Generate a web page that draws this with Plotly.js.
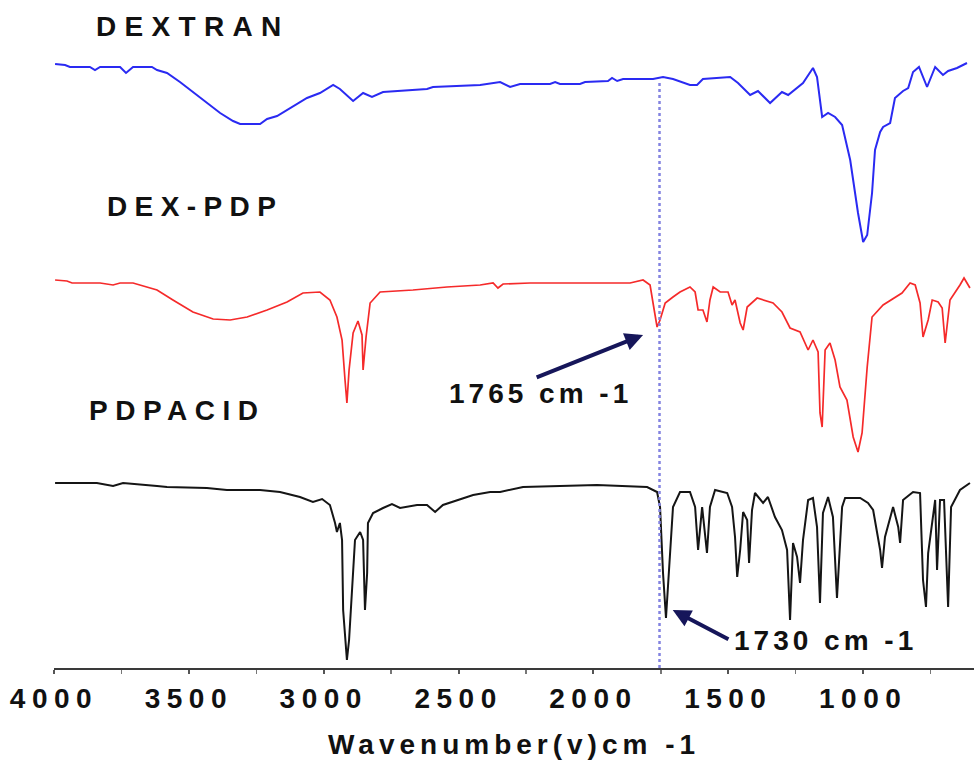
<!DOCTYPE html>
<html>
<head>
<meta charset="utf-8">
<script src="https://cdn.plot.ly/plotly-3.0.1.min.js"></script>
<style>
  html, body { margin: 0; padding: 0; background: #fff; }
  #chart { width: 974px; height: 760px; }
  .xtick text { letter-spacing: 6.5px; }
</style>
</head>
<body>
<div id="chart"></div>
<script>
// Wavenumber (cm-1) and offset transmittance (a.u.)
const dextranWn = [3996,3959,3941,3867,3848,3829,3755,3733,3707,3637,3618,3581,3533,3459,3384,3336,3310,3236,3210,3173,3125,3062,3014,2965,2940,2891,2854,2821,2780,2717,2617,2595,2521,2420,2346,2309,2272,2161,2142,2124,2050,2031,1946,1931,1912,1890,1779,1742,1705,1642,1616,1594,1493,1464,1419,1390,1345,1301,1278,1223,1186,1171,1152,1130,1104,1078,1048,1030,1019,1000,985,967,956,937,926,900,882,852,833,815,793,763,733,704,685,652,615];
const dextranT = [604,603,601,601,598,601,601,595,601,601,598,595,586,571,555,547,544,544,549,552,560,570,575,583,579,567,575,571,576,577,579,581,582,583,586,581,584,584,586,584,584,586,587,590,587,589,589,591,589,583,583,589,591,585,573,577,565,576,573,585,600,591,551,555,551,543,508,475,455,426,433,475,518,536,541,545,570,577,580,596,601,581,601,593,597,600,605];

const dexPdpWn = [3996,3952,3933,3829,3781,3755,3707,3655,3618,3559,3485,3410,3347,3284,3210,3136,3077,3014,2977,2951,2932,2921,2914,2906,2891,2873,2858,2854,2843,2828,2791,2669,2543,2420,2372,2354,2335,2235,1864,1816,1790,1779,1764,1753,1734,1705,1679,1642,1623,1612,1594,1579,1568,1556,1530,1501,1486,1475,1456,1445,1430,1393,1334,1301,1271,1234,1204,1186,1167,1160,1152,1141,1123,1104,1086,1060,1037,1019,1004,985,967,926,882,856,826,807,789,778,759,744,722,707,696,678,641,626,604];
const dexPdpT = [388,387,385,385,383,385,385,381,378,368,356,349,348,351,358,366,375,376,368,351,328,288,265,298,335,347,333,298,331,365,376,378,381,383,385,380,384,385,385,388,383,365,341,348,365,371,376,381,376,358,358,346,368,381,376,376,363,368,345,338,361,370,365,356,340,336,318,328,316,255,241,318,325,308,281,268,231,216,235,301,351,363,370,375,385,383,365,331,348,368,366,360,325,368,383,390,380];

const pdpAcidWn = [3996,3841,3781,3744,3618,3581,3433,3359,3236,3162,3088,3040,3006,2977,2958,2951,2940,2932,2928,2914,2906,2895,2884,2865,2854,2847,2839,2836,2817,2780,2747,2717,2654,2617,2587,2558,2506,2446,2383,2346,2261,1987,1801,1764,1753,1742,1731,1723,1716,1705,1679,1642,1623,1612,1597,1579,1568,1549,1504,1486,1475,1467,1456,1445,1430,1423,1412,1401,1371,1353,1327,1301,1282,1271,1260,1245,1234,1223,1204,1186,1171,1160,1149,1130,1112,1097,1078,1067,1011,982,963,937,930,919,889,870,863,852,815,789,778,767,759,744,733,726,715,700,689,685,674,641,604];
const pdpAcidT = [185,185,182,185,182,181,180,178,178,176,171,166,169,163,145,136,145,128,58,8,28,78,128,136,128,58,95,145,155,160,164,160,163,163,156,163,168,173,176,176,181,183,181,176,161,95,50,85,108,161,176,176,161,118,161,115,161,178,175,161,131,91,118,156,148,105,158,175,165,171,151,138,118,48,125,111,85,128,168,170,141,65,155,171,151,70,161,170,170,165,158,118,100,131,161,141,125,168,176,175,88,61,115,145,168,98,168,168,78,61,161,178,185];

const seriesNames = ["DEXTRAN", "DEX-PDP", "PDPACID"];
const xTickVals = [4000, 3500, 3000, 2500, 2000, 1500, 1000];
const xTickText = ["4000", "3500", "3000", "2500", "2000", "1500", "1000"];
const markerWn = 1755;
const peakLabels = ["1765 cm -1", "1730 cm -1"];
const axisTitle = "Wavenumber(v)cm -1";

const FONT = "Liberation Sans, Arial, sans-serif";

const traces = [
  {x: dextranWn, y: dextranT, name: seriesNames[0], mode: "lines", line: {color: "#2a2af2", width: 2}},
  {x: dexPdpWn, y: dexPdpT, name: seriesNames[1], mode: "lines", line: {color: "#f52a2a", width: 1.7}},
  {x: pdpAcidWn, y: pdpAcidT, name: seriesNames[2], mode: "lines", line: {color: "#151515", width: 2}}
];

function spaced(t, ls) { return '<span style="letter-spacing:' + ls + 'px">' + t + '</span>'; }

const labelFont = {family: FONT, size: 28, color: "#111", weight: "bold"};

const layout = {
  width: 974, height: 760,
  margin: {l: 54, r: 0, t: 0, b: 92},
  paper_bgcolor: "#fff", plot_bgcolor: "#fff",
  showlegend: false,
  xaxis: {
    range: [4000, 589], autorange: false,
    showline: true, linecolor: "#3a3a3a", linewidth: 2,
    showgrid: false, zeroline: false,
    tickmode: "array", tickvals: xTickVals, ticktext: xTickText,
    ticks: "outside", ticklen: 4, tickcolor: "#555", tickwidth: 2,
    minor: {dtick: 250, tick0: 0, ticks: "outside", ticklen: 4, tickcolor: "#777", tickwidth: 1.5},
    tickfont: labelFont,
    title: {text: spaced(axisTitle, 5), font: labelFont, standoff: 22}
  },
  yaxis: {range: [0, 668], autorange: false, visible: false, showgrid: false, zeroline: false},
  shapes: [
    {type: "line", xref: "x", yref: "y", x0: markerWn, x1: markerWn, y0: 0, y1: 588,
     line: {color: "#8383e0", width: 2.5, dash: "dot"}}
  ],
  annotations: [
    {xref: "x", yref: "y", x: 3488, y: 642, text: spaced(seriesNames[0], 8.3), showarrow: false, font: labelFont, xanchor: "center", yanchor: "middle"},
    {xref: "x", yref: "y", x: 3477, y: 462, text: spaced(seriesNames[1], 7.4), showarrow: false, font: labelFont, xanchor: "center", yanchor: "middle"},
    {xref: "x", yref: "y", x: 3544, y: 258, text: spaced(seriesNames[2], 7.5), showarrow: false, font: labelFont, xanchor: "center", yanchor: "middle"},
    {xref: "x", yref: "y", x: 2197, y: 275, text: spaced(peakLabels[0], 4), showarrow: false, font: labelFont, xanchor: "center", yanchor: "middle"},
    {xref: "x", yref: "y", x: 1141, y: 28, text: spaced(peakLabels[1], 4), showarrow: false, font: labelFont, xanchor: "center", yanchor: "middle"},
    {xref: "x", yref: "y", x: 1816, y: 333, axref: "x", ayref: "y", ax: 2216, ay: 290, text: "", showarrow: true,
     arrowhead: 2, arrowsize: 0.9, arrowwidth: 4, arrowcolor: "#16165a"},
    {xref: "x", yref: "y", x: 1706, y: 58, axref: "x", ayref: "y", ax: 1494, ay: 28, text: "", showarrow: true,
     arrowhead: 2, arrowsize: 0.9, arrowwidth: 4, arrowcolor: "#16165a"}
  ]
};

Plotly.newPlot("chart", traces, layout, {staticPlot: true, displayModeBar: false});
</script>
</body>
</html>
